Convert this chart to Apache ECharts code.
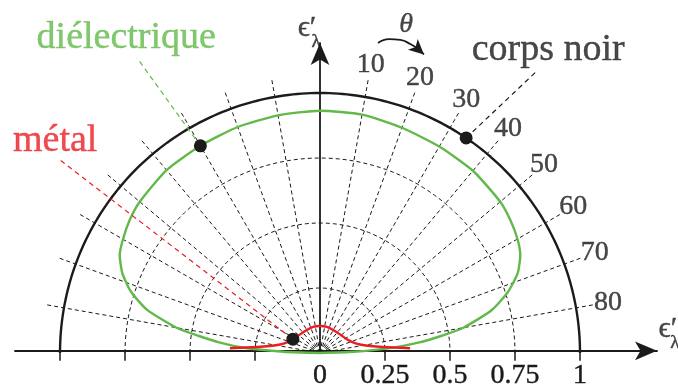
<!DOCTYPE html>
<html>
<head>
<meta charset="utf-8">
<script src="https://cdn.jsdelivr.net/npm/echarts@6/dist/echarts.min.js"></script>
<style>
html, body { margin: 0; padding: 0; background: #fff; }
#main { width: 678px; height: 390px; }
</style>
</head>
<body>
<div id="main"></div>
<script>
// angles in degrees from the normal, radii = directional emissivity
var angleTicks = [10, 20, 30, 40, 50, 60, 70, 80];
var radialAngles = [-80, -70, -60, -50, -40, -30, -20, -10, 10, 20, 30, 40, 50, 60, 70, 80];
var ringRadii = [0.25, 0.5, 0.75];
var xTickValues = [-1, -0.75, -0.5, -0.25, 0.25, 0.5, 0.75, 1];
var xLabelValues = [0, 0.25, 0.5, 0.75, 1];

var blackBodyValue = 1;

var dielectricAngle = [-90, -88, -86, -84, -82, -80, -76, -72, -68, -64, -60, -55, -50, -40, -30, -20, -10, 0,
    10, 20, 30, 40, 50, 55, 60, 64, 68, 72, 76, 80, 82, 84, 86, 88, 90];
var dielectricValue = [0, 0.14, 0.3, 0.39, 0.47, 0.56, 0.685, 0.765, 0.82, 0.857, 0.875, 0.893, 0.905, 0.918, 0.92, 0.925, 0.928, 0.932,
    0.931, 0.922, 0.917, 0.915, 0.905, 0.893, 0.877, 0.857, 0.82, 0.76, 0.68, 0.56, 0.47, 0.38, 0.27, 0.13, 0];

var metalAngle = [-87, -84.6, -82, -78, -72, -63, -47, -30, -15, 0, 15, 30, 47, 63, 72, 78, 82, 84.6, 87];
var metalValue = [0.347, 0.243, 0.194, 0.157, 0.133, 0.116, 0.105, 0.102, 0.104, 0.104,
    0.104, 0.102, 0.105, 0.116, 0.133, 0.157, 0.194, 0.243, 0.347];

var BLACK = '#1c1a1b';
var GREEN = '#62b94a';
var RED = '#ec1c24';
var FONT = "'Liberation Serif', 'DejaVu Serif', serif";

// sample an arc of radius r between two angles (for the grid circles)
function arc(r, from, to, step) {
    var pts = [];
    for (var a = from; a <= to; a += step) {
        pts.push([r, a]);
    }
    return pts;
}

function polarLine(data, color, width, type) {
    return {
        type: 'line',
        coordinateSystem: 'polar',
        data: data,
        symbol: 'none',
        silent: true,
        clip: false,
        lineStyle: { color: color, width: width, type: type || 'solid' }
    };
}

function textStyle(color, size, italic) {
    return {
        show: true,
        position: 'inside',
        color: color,
        fontSize: size,
        fontFamily: FONT,
        fontStyle: italic ? 'italic' : 'normal',
        textBorderColor: color,
        textBorderWidth: 0.4
    };
}

function textPoint(r, a, text, color, size, italic) {
    var label = textStyle(color, size, italic);
    label.formatter = text;
    return { value: [r, a], label: label };
}

var myChart = echarts.init(document.getElementById('main'));

var series = [];

// dashed circles
ringRadii.forEach(function (r) {
    series.push(polarLine(arc(r, -90, 90, 2), BLACK, 1, [4, 3]));
});

// dashed radial lines
radialAngles.forEach(function (a) {
    series.push(polarLine([[0, a], [1.07, a]], BLACK, 1, [4, 3]));
});

// black body
series.push(polarLine(arc(blackBodyValue, -90, 90, 1), BLACK, 2.4));

// dielectric
series.push({
    type: 'line',
    coordinateSystem: 'polar',
    data: dielectricAngle.map(function (a, i) { return [dielectricValue[i], a]; }),
    symbol: 'none',
    smooth: 0.2,
    clip: false,
    silent: true,
    lineStyle: { color: GREEN, width: 2.4 }
});

// metal
series.push({
    type: 'line',
    coordinateSystem: 'polar',
    data: metalAngle.map(function (a, i) { return [metalValue[i], a]; }),
    symbol: 'none',
    smooth: 0.3,
    clip: false,
    silent: true,
    lineStyle: { color: RED, width: 2.4 }
});

// leader lines
series.push(polarLine([[1, 34.2], [1.374, 37.6]], BLACK, 1.2, [5, 4]));
series.push(polarLine([[0.92, -30], [1.335, -31.8]], GREEN, 1.2, [5, 4]));
series.push(polarLine([[0.117, -63], [1.245, -53.4]], RED, 1.2, [5, 4]));

// theta arrow: curved stroke + arrow head at its end
var thetaArrow = polarLine([[1.213, 10.6], [1.236, 12.4], [1.243, 14.4], [1.238, 16.3], [1.228, 17.9]], BLACK, 1.8);
thetaArrow.smooth = true;
thetaArrow.markLine = {
    silent: true,
    symbol: ['none', 'arrow'],
    symbolSize: [11, 15],
    label: { show: false },
    lineStyle: { color: BLACK, width: 1.8, type: 'solid' },
    data: [[{ coord: [1.228, 17.9] }, { coord: [1.216, 19.2] }]]
};
series.push(thetaArrow);

// dots
series.push({
    type: 'scatter',
    coordinateSystem: 'polar',
    data: [[1, 34.2], [0.92, -30], [0.117, -63]],
    symbolSize: 13,
    z: 5,
    clip: false,
    silent: true,
    itemStyle: { color: BLACK, opacity: 1 }
});

// angle labels and names
series.push({
    type: 'scatter',
    coordinateSystem: 'polar',
    symbolSize: 1,
    clip: false,
    silent: true,
    itemStyle: { color: 'rgba(0,0,0,0)' },
    data: angleTicks.map(function (a) {
        return textPoint(1.125, a, String(a), BLACK, 28);
    }).concat([
        textPoint(1.458, 37.0, 'corps noir', BLACK, 38),
        textPoint(1.422, -31.6, 'diélectrique', GREEN, 38),
        textPoint(1.305, -51.3, 'métal', RED, 38),
        textPoint(1.304, 14.7, 'θ', BLACK, 28, true)
    ])
});

// axis names, on the cartesian grid
function axisName(x, y, text, size) {
    var label = textStyle(BLACK, size);
    label.formatter = text;
    return { value: [x, y], label: label };
}

series.push({
    type: 'scatter',
    coordinateSystem: 'cartesian2d',
    symbolSize: 1,
    clip: false,
    silent: true,
    itemStyle: { color: 'rgba(0,0,0,0)' },
    data: [
        axisName(-0.05, 1.25, 'ϵ′', 30),
        axisName(-0.015, 1.196, 'λ', 19),
        axisName(1.338, 0.085, 'ϵ′', 30),
        axisName(1.365, 0.031, 'λ', 19)
    ]
});

var option = {
    animation: false,
    backgroundColor: '#fff',
    polar: {
        center: [320, 353],
        radius: 416
    },
    angleAxis: {
        type: 'value',
        min: -180,
        max: 180,
        startAngle: 270,
        clockwise: true,
        show: false
    },
    radiusAxis: {
        type: 'value',
        min: 0,
        max: 1.6,
        show: false
    },
    grid: {
        left: 15,
        right: 21,
        top: 43,
        bottom: 37,
        containLabel: false
    },
    xAxis: {
        type: 'value',
        min: -305 / 260,
        max: 337 / 260,
        axisLine: {
            onZero: true,
            symbol: ['none', 'arrow'],
            symbolSize: [14, 22],
            lineStyle: { color: BLACK, width: 1.8 }
        },
        axisTick: {
            show: true,
            customValues: xTickValues,
            length: 10,
            lineStyle: { color: BLACK, width: 1.5 }
        },
        axisLabel: {
            show: true,
            customValues: xLabelValues,
            margin: 11,
            fontSize: 28,
            fontFamily: FONT,
            color: BLACK,
            textBorderColor: BLACK,
            textBorderWidth: 0.4,
            formatter: function (v) { return String(v); }
        },
        splitLine: { show: false }
    },
    yAxis: {
        type: 'value',
        min: 0,
        max: 310 / 260,
        axisLine: {
            onZero: true,
            symbol: ['none', 'arrow'],
            symbolSize: [14, 22],
            lineStyle: { color: BLACK, width: 1.8 }
        },
        axisTick: { show: false },
        axisLabel: { show: false },
        splitLine: { show: false }
    },
    series: series
};

myChart.setOption(option);
</script>
</body>
</html>
